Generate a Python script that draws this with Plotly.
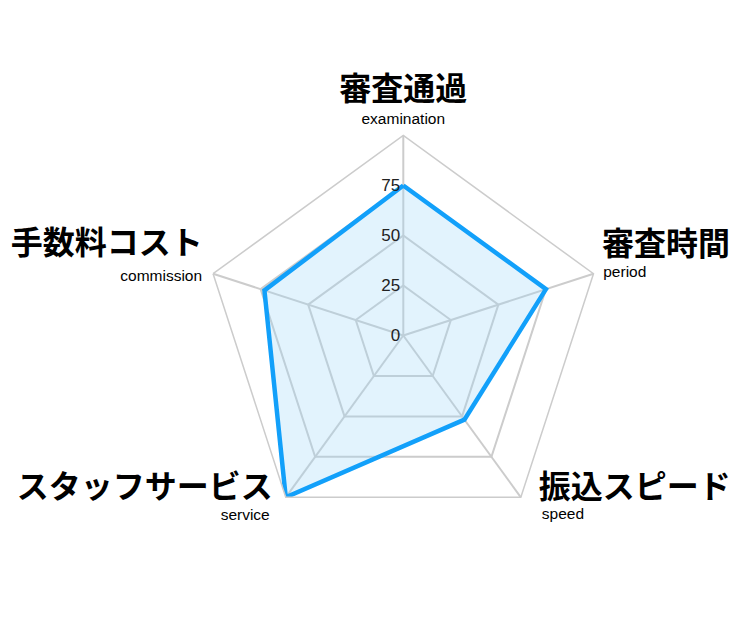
import plotly.graph_objects as go

# axis labels (Japanese / English) and scores
labels_ja = ["審査通過", "審査時間", "振込スピード", "スタッフサービス", "手数料コスト"]
labels_en = ["examination", "period", "speed", "service", "commission"]
scores = [75, 75, 52, 100, 73]
radial_ticks = [0, 25, 50, 75]
r_max = 100

GRID = "#cccccc"

# close the polygon
r_vals = scores + scores[:1]
theta_vals = labels_en + labels_en[:1]

score_trace = go.Scatterpolar(
    r=r_vals,
    theta=theta_vals,
    mode="lines",
    fill="toself",
    fillcolor="rgba(160,215,250,0.3)",
    line=dict(color="#12a0fa", width=4.5),
    hoverinfo="skip",
)

# category labels drawn as text at the outer ring; an invisible marker
# of a given size pushes each text away from its corner
ja_trace = go.Scatterpolar(
    r=[r_max] * len(labels_en),
    theta=labels_en,
    mode="markers+text",
    text=["<span style='font-size:32px'><b>%s</b></span>" % t for t in labels_ja],
    textposition=["top center", "top right", "middle right", "middle left", "top left"],
    textfont=dict(family="Noto Sans CJK JP", size=[32, 40, 1, 1, 36], color="#000"),
    marker=dict(size=[42, 12, 27, 19, 15], opacity=0),
    cliponaxis=False,
    hoverinfo="skip",
)

en_trace = go.Scatterpolar(
    r=[r_max] * len(labels_en),
    theta=labels_en,
    mode="markers+text",
    text=["<span style='font-size:15.5px'>%s</span>" % t for t in labels_en],
    textposition=["top center", "middle right", "bottom right", "bottom left", "middle left"],
    textfont=dict(family="Liberation Sans, Arial", size=[14, 14, 1, 9, 28], color="#000"),
    marker=dict(size=[12, 14, 32, 24, 16], opacity=0),
    cliponaxis=False,
    hoverinfo="skip",
)

fig = go.Figure(data=[score_trace, ja_trace, en_trace])

fig.update_layout(
    width=750,
    height=625,
    margin=dict(l=0, r=0, t=0, b=0),
    paper_bgcolor="white",
    showlegend=False,
    polar=dict(
        domain=dict(x=[0.2604, 0.7937], y=[0.156, 0.796]),
        gridshape="linear",
        bgcolor="white",
        radialaxis=dict(
            range=[0, r_max],
            tickvals=radial_ticks,
            angle=90,
            tickangle=90,
            side="counterclockwise",
            showline=False,
            ticks="",
            gridcolor=GRID,
            gridwidth=1.5,
            tickfont=dict(family="Liberation Sans, Arial", size=17, color="#222"),
        ),
        angularaxis=dict(
            direction="clockwise",
            rotation=90,
            showticklabels=False,
            showline=True,
            linecolor=GRID,
            linewidth=1.5,
            gridcolor=GRID,
            gridwidth=1.5,
            ticks="",
        ),
    ),
)

fig.write_html("out.html")
